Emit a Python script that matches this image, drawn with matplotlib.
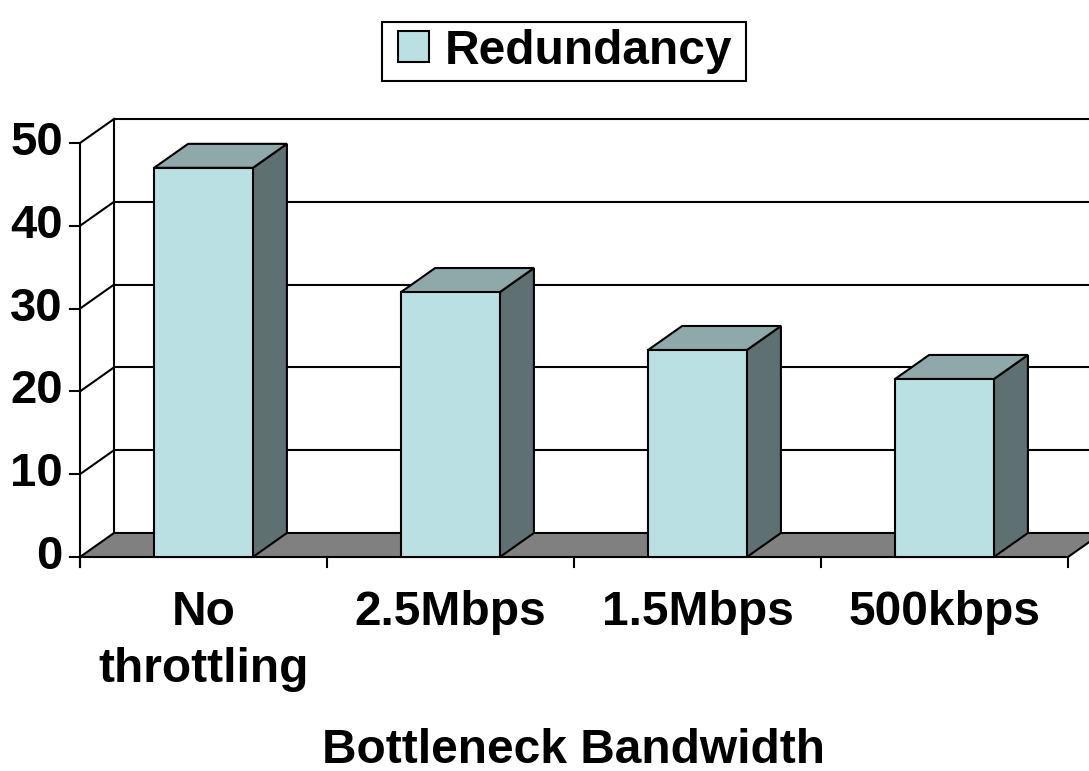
import matplotlib
matplotlib.use('Agg')
from matplotlib import pyplot as plt
from matplotlib.patches import Polygon, Rectangle
import numpy as np

plt.rcParams['font.family'] = ['Liberation Sans', 'DejaVu Sans']
plt.rcParams['font.weight'] = 'bold'

categories = ['No\nthrottling', '2.5Mbps', '1.5Mbps', '500kbps']
redundancy = [47, 32, 25, 21.5]
yticks = [0, 10, 20, 30, 40, 50]
series_name = 'Redundancy'

# fake 3d look: depth offset in (category, value) units
dx = 0.1377
dy = 2.9
bw = 0.4

front_c = '#bae0e3'
top_c = '#8fa9aa'
side_c = '#5f7072'
floor_c = '#808080'
lw = 1.5
fs = 34.5

W, H = 1089, 771
fig = plt.figure(figsize=(W / 100, H / 100), dpi=100)
ax = fig.add_axes([0, 0, 1, 1])
ax.set_xlim(-80 / 247, 1009 / 247)
ax.set_ylim(-214 / 8.28, 557 / 8.28)
ax.axis('off')

n = len(categories)
ymax = yticks[-1]

# back wall
ax.plot([dx, dx], [dy, ymax + dy], color='k', lw=lw, zorder=1)
for v in yticks[1:]:
    ax.plot([dx, n + dx], [v + dy, v + dy], color='k', lw=lw, zorder=1)
    ax.plot([0, dx], [v, v + dy], color='k', lw=lw, zorder=1)

# floor
floor = Polygon([(0, 0), (n, 0), (n + dx, dy), (dx, dy)], closed=True,
                facecolor=floor_c, edgecolor='k', lw=lw, zorder=2)
ax.add_patch(floor)

# front value axis
ax.plot([0, 0], [-10 / 8.28, ymax], color='k', lw=lw, zorder=3)
for v in yticks:
    ax.plot([-10 / 247, 0], [v, v], color='k', lw=lw, zorder=3)
    ax.text(-17 / 247, v, str(v), ha='right', va='center', fontsize=34,
            fontweight='bold')

# category ticks
for i in range(n + 1):
    ax.plot([i, i], [0, -10 / 8.28], color='k', lw=lw, zorder=3)

# bars
for i, v in enumerate(redundancy):
    c = i + 0.5
    x0, x1 = c - bw / 2, c + bw / 2
    side = Polygon([(x1, 0), (x1 + dx, dy), (x1 + dx, v + dy), (x1, v)],
                   closed=True, facecolor=side_c, edgecolor='k', lw=lw, zorder=4)
    top = Polygon([(x0, v), (x1, v), (x1 + dx, v + dy), (x0 + dx, v + dy)],
                  closed=True, facecolor=top_c, edgecolor='k', lw=lw, zorder=4)
    front = Polygon([(x0, 0), (x1, 0), (x1, v), (x0, v)],
                    closed=True, facecolor=front_c, edgecolor='k', lw=lw, zorder=5)
    ax.add_patch(side)
    ax.add_patch(top)
    ax.add_patch(front)
    ax.text(c, -33 / 8.28, categories[i], ha='center', va='top', fontsize=fs,
            fontweight='bold', linespacing=1.33, multialignment='center')

ax.text(n / 2, -206 / 8.28, 'Bottleneck Bandwidth', ha='center', va='baseline',
        fontsize=fs, fontweight='bold')

# legend box, laid out in pixels from the top-left corner
def px(x, y):
    return x / W, 1 - y / H

lx0, ly0, lx1, ly1 = 382, 22, 746, 81
fig.patches.append(Rectangle(px(lx0, ly1), (lx1 - lx0) / W, (ly1 - ly0) / H,
                             transform=fig.transFigure, facecolor='white',
                             edgecolor='k', lw=lw))
fig.patches.append(Rectangle(px(398, 62), 31 / W, 31 / H,
                             transform=fig.transFigure, facecolor=front_c,
                             edgecolor='k', lw=lw))
fig.text(*px(445, 47), series_name, ha='left', va='center_baseline',
         fontsize=fs, fontweight='bold')

fig.savefig('out.png', dpi=100)
